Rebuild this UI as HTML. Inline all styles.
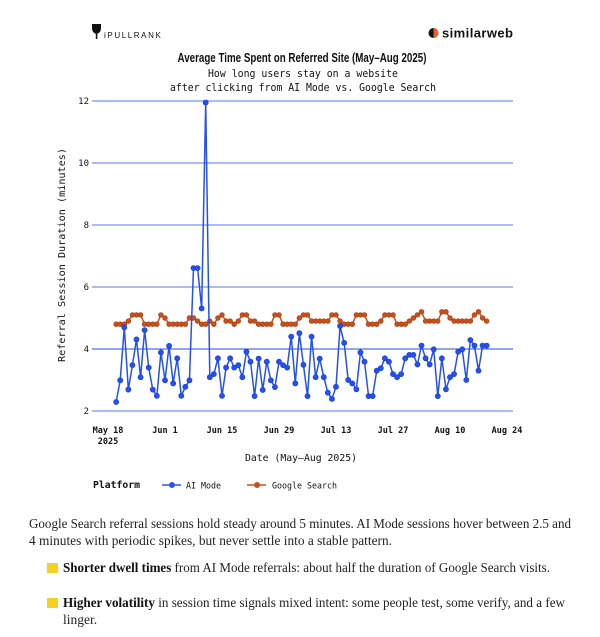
<!DOCTYPE html>
<html><head><meta charset="utf-8"><style>
html,body{margin:0;padding:0;background:#fff;}
svg{display:block;}
.mono{font-family:"DejaVu Sans Mono","Liberation Mono",monospace;}
.serif{font-family:"Liberation Serif",serif;}
</style></head><body>
<svg id="chart" width="600" height="637" viewBox="0 0 600 637" xmlns="http://www.w3.org/2000/svg">
  <g>
    <path d="M92 24 h9 v4 q0 5 -4.5 6 q-4.5 -1 -4.5 -6z" fill="#111"/>
    <rect x="95.8" y="34" width="1.6" height="5" fill="#111"/>
    <text x="104" y="38" font-family="Liberation Sans, sans-serif" font-size="8" letter-spacing="1.6" fill="#111">iPULLRANK</text>
  </g>
  <g>
    <circle cx="433.5" cy="33" r="5" fill="#111"/>
    <path d="M433.5 28 a5 5 0 0 1 0 10 z" fill="#ff6b2b" opacity="0.9"/>
    <text x="442" y="37.5" font-family="Liberation Sans, sans-serif" font-weight="bold" font-size="13" fill="#111" textLength="71">similarweb</text>
  </g>
  <text x="302" y="62" text-anchor="middle" font-family="Liberation Sans Narrow, Liberation Sans, sans-serif" font-weight="bold" font-size="13" textLength="249" lengthAdjust="spacingAndGlyphs" fill="#111">Average Time Spent on Referred Site (May–Aug 2025)</text>
  <text class="mono" x="303" y="77" text-anchor="middle" font-size="10.5" textLength="190" lengthAdjust="spacingAndGlyphs" fill="#111">How long users stay on a website</text>
  <text class="mono" x="303" y="91" text-anchor="middle" font-size="10.5" textLength="266" lengthAdjust="spacingAndGlyphs" fill="#111">after clicking from AI Mode vs. Google Search</text>
  <g id="grid"></g>
  <g id="yticks"></g>
  <g id="xticks"></g>
  <text class="mono" transform="translate(65,255) rotate(-90)" text-anchor="middle" font-size="10" textLength="214" lengthAdjust="spacingAndGlyphs" fill="#111">Referral Session Duration (minutes)</text>
  <text class="mono" x="301" y="461" text-anchor="middle" font-size="10" textLength="112" lengthAdjust="spacingAndGlyphs" fill="#111">Date (May–Aug 2025)</text>
  <g id="series"></g>
  <g>
    <text class="mono" x="93" y="488" font-size="10" font-weight="bold" textLength="47" lengthAdjust="spacingAndGlyphs" fill="#111">Platform</text>
    <g>
      <line x1="162" y1="485" x2="181" y2="485" stroke="#2a52f0" stroke-width="1.5"/>
      <circle cx="172" cy="485" r="3" fill="#2a52f0"/>
      <text class="mono" x="186" y="488.5" font-size="9" textLength="35" lengthAdjust="spacingAndGlyphs" fill="#111">AI Mode</text>
    </g>
    <g>
      <line x1="247" y1="485" x2="266" y2="485" stroke="#c8501a" stroke-width="1.5"/>
      <circle cx="257" cy="485" r="3" fill="#c8501a"/>
      <text class="mono" x="272" y="488.5" font-size="9" textLength="65" lengthAdjust="spacingAndGlyphs" fill="#111">Google Search</text>
    </g>
  </g>
  <g class="serif" font-size="13.5" fill="#222">
    <text x="29" y="528" textLength="542" lengthAdjust="spacingAndGlyphs">Google Search referral sessions hold steady around 5 minutes. AI Mode sessions hover between 2.5 and</text>
    <text x="29" y="545" textLength="363" lengthAdjust="spacingAndGlyphs">4 minutes with periodic spikes, but never settle into a stable pattern.</text>
    <rect x="47" y="563" width="11" height="10" fill="#f5d21f"/>
    <text x="63" y="572" textLength="487" lengthAdjust="spacingAndGlyphs"><tspan font-weight="bold" fill="#111">Shorter dwell times</tspan> from AI Mode referrals: about half the duration of Google Search visits.</text>
    <rect x="47" y="598" width="11" height="10" fill="#f5d21f"/>
    <text x="63" y="607" textLength="502" lengthAdjust="spacingAndGlyphs"><tspan font-weight="bold" fill="#111">Higher volatility</tspan> in session time signals mixed intent: some people test, some verify, and a few</text>
    <text x="63" y="624">linger.</text>
  </g>
</svg>
<script>
const yTicks = [2, 4, 6, 8, 10, 12];
const xTickLabels = ["May 18", "Jun 1", "Jun 15", "Jun 29", "Jul 13", "Jul 27", "Aug 10", "Aug 24"];
const xTickDays = [0, 14, 28, 42, 56, 70, 84, 98];
const startDay = 2; // first data point: May 20, days after May 18
const aiMode = [2.29,2.99,4.70,2.69,3.48,4.31,3.09,4.61,3.40,2.69,2.49,3.89,2.99,4.10,2.89,3.70,2.49,2.78,2.99,6.61,6.61,5.31,11.95,3.09,3.19,3.70,2.49,3.40,3.70,3.40,
3.48,3.09,3.91,3.59,2.48,3.69,2.68,3.59,2.99,2.77,3.59,3.48,3.40,4.40,2.89,4.51,3.49,2.48,4.40,3.09,3.69,3.09,2.59,2.39,2.78,4.74,4.20,3.00,2.89,2.70,3.89,3.59,2.48,
2.48,3.30,3.38,3.70,3.59,3.19,3.09,3.19,3.70,3.81,3.81,3.50,4.11,3.70,3.50,3.99,2.48,3.70,2.70,3.09,3.19,3.91,3.99,3.00,4.29,4.11,3.30,4.11,4.11];
const googleSearch = [4.8,4.8,4.8,4.9,5.1,5.1,5.1,4.8,4.8,4.8,4.8,5.1,5.0,4.8,4.8,4.8,4.8,4.8,5.0,5.0,4.9,4.8,4.8,4.9,4.8,5.0,5.1,4.9,4.9,4.8,
4.9,5.1,5.1,4.9,4.9,4.8,4.8,4.8,4.8,5.1,5.1,4.8,4.8,4.8,4.8,5.0,5.1,5.1,4.9,4.9,4.9,4.9,4.9,5.1,5.1,4.9,4.8,4.8,4.8,5.1,5.1,5.1,4.8,
4.8,4.8,4.9,5.1,5.1,5.1,4.8,4.8,4.8,4.9,5.0,5.1,5.2,4.9,4.9,4.9,4.9,5.2,5.2,5.0,4.9,4.9,4.9,4.9,4.9,5.1,5.2,5.0,4.9];

const NS = "http://www.w3.org/2000/svg";
const plotL = 92, plotR = 513;
const xScale = d => 108 + d * (57 / 14);
const yScale = v => 411 - (v - 2) * 31;
function mk(tag, attrs, parent) {
  const e = document.createElementNS(NS, tag);
  for (const k in attrs) e.setAttribute(k, attrs[k]);
  parent.appendChild(e);
  return e;
}
const grid = document.getElementById('grid');
const yt = document.getElementById('yticks');
yTicks.forEach(v => {
  const y = yScale(v);
  const ln = mk('line', {x1: plotL, x2: plotR, y1: y, y2: y, stroke: v === 4 ? '#2a4bd8' : '#8fa3f3', 'stroke-width': v === 4 ? 1 : 1.6}, grid);
  
  
  const t = mk('text', {x: 89, y: y + 3, 'text-anchor': 'end', 'font-size': 9, class: 'mono', fill: '#111'}, yt);
  t.textContent = v;
  
  
});
const xt = document.getElementById('xticks');
xTickLabels.forEach((lab, i) => {
  const t = mk('text', {x: xScale(xTickDays[i]), y: 433, 'text-anchor': 'middle', 'font-size': 8.5, 'font-weight': 'bold', class: 'mono', fill: '#111'}, xt);
  t.textContent = lab;
  
  
});
const yr = mk('text', {x: xScale(0), y: 444, 'text-anchor': 'middle', 'font-size': 8.5, 'font-weight': 'bold', class: 'mono', fill: '#111'}, xt);
yr.textContent = '2025';



const ser = document.getElementById('series');
function drawSeries(vals, color, stroke, r, name) {
  const g = mk('g', {}, ser);
  
  
  const pts = vals.map((v, i) => xScale(startDay + i).toFixed(2) + ',' + yScale(v).toFixed(2)).join(' ');
  const pl = mk('polyline', {points: pts, fill: 'none', stroke: color, 'stroke-width': 1.5, 'stroke-linejoin': 'round'}, g);
  
  
  vals.forEach((v, i) => {
    const c = mk('circle', {cx: xScale(startDay + i), cy: yScale(v), r: r, fill: color, stroke: stroke, 'stroke-width': 0.6}, g);
    
    
  });
}
drawSeries(googleSearch, '#c8501a', '#a83c10', 2.4, 'google-search');
drawSeries(aiMode, '#2450f0', '#1a3ad0', 2.6, 'ai-mode');
</script>
</body></html>
